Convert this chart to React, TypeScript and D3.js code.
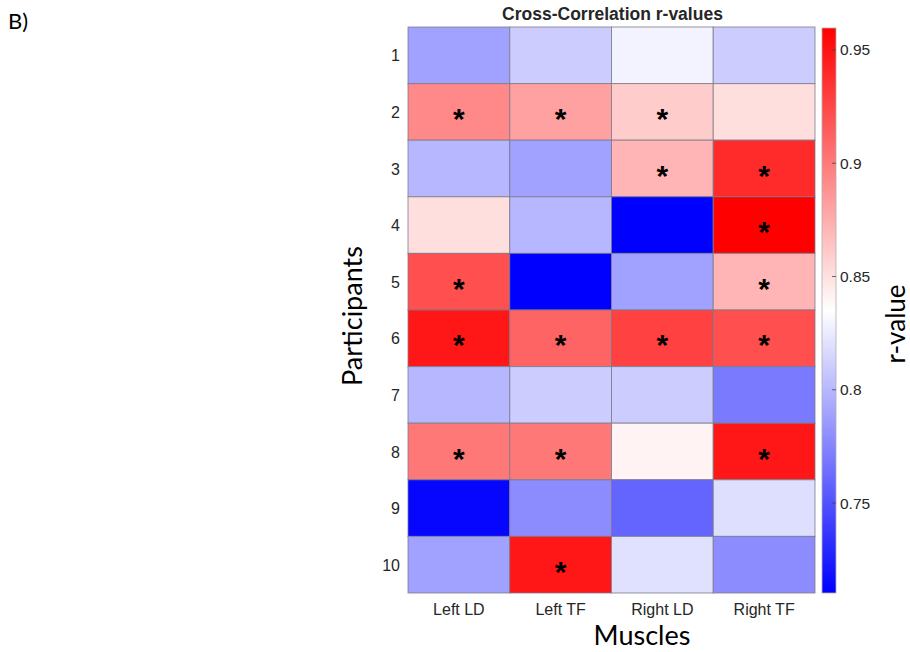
import React, { useEffect, useRef } from 'react'
import * as d3 from 'd3'

const participants = ['1', '2', '3', '4', '5', '6', '7', '8', '9', '10']
const muscles = ['Left LD', 'Left TF', 'Right LD', 'Right TF']

// r-values per participant (rows) and muscle (columns)
const rValues = [
	[0.789, 0.81, 0.829, 0.81],
	[0.893, 0.881, 0.86, 0.851],
	[0.8, 0.789, 0.871, 0.939],
	[0.851, 0.8, 0.7103, 0.9597],
	[0.921, 0.7103, 0.789, 0.871],
	[0.949, 0.911, 0.928, 0.921],
	[0.8, 0.81, 0.81, 0.77],
	[0.901, 0.901, 0.841, 0.949],
	[0.713, 0.779, 0.759, 0.819],
	[0.789, 0.949, 0.82, 0.779],
]

// 1 = significant (asterisk)
const significant = [
	[0, 0, 0, 0],
	[1, 1, 1, 0],
	[0, 0, 1, 1],
	[0, 0, 0, 1],
	[1, 0, 0, 1],
	[1, 1, 1, 1],
	[0, 0, 0, 0],
	[1, 1, 0, 1],
	[0, 0, 0, 0],
	[0, 1, 0, 0],
]

const colorTicks = [0.75, 0.8, 0.85, 0.9, 0.95]
const rMin = 0.7103
const rMax = 0.9597

const tickFont = '"Liberation Sans", Arial, sans-serif'
const labelFont = 'Lato, "Open Sans", sans-serif'

export default function App() {
	const ref = useRef<SVGSVGElement>(null)

	useEffect(() => {
		const svg = d3.select(ref.current)
		svg.selectAll('*').remove()

		const left = 408
		const top = 27
		const width = 407
		const height = 566

		const mid = (rMin + rMax) / 2
		const color = d3
			.scaleLinear<string>()
			.domain([rMin, mid, rMax])
			.range(['#0000ff', '#ffffff', '#ff0000'])
			.clamp(true)

		const x = d3.scaleBand().domain(muscles).range([left, left + width])
		const y = d3.scaleBand().domain(participants).range([top, top + height])

		const cells = rValues.flatMap((row, i) =>
			row.map((v, j) => ({
				p: participants[i],
				m: muscles[j],
				v,
				sig: significant[i][j] === 1,
			}))
		)

		svg
			.append('g')
			.selectAll('rect')
			.data(cells)
			.enter()
			.append('rect')
			.attr('x', (d) => x(d.m))
			.attr('y', (d) => y(d.p))
			.attr('width', x.bandwidth())
			.attr('height', y.bandwidth())
			.attr('fill', (d) => color(d.v))
			.attr('stroke', '#7a7a8a')
			.attr('stroke-opacity', 0.8)
			.attr('stroke-width', 1)

		svg
			.append('g')
			.selectAll('text')
			.data(cells.filter((d) => d.sig))
			.enter()
			.append('text')
			.attr('x', (d) => x(d.m) + x.bandwidth() / 2)
			.attr('y', (d) => y(d.p) + y.bandwidth() / 2 + 17)
			.attr('text-anchor', 'middle')
			.attr('font-family', tickFont)
			.attr('font-weight', 'bold')
			.attr('font-size', 30)
			.attr('fill', '#000')
			.text('*')

		// row labels
		svg
			.append('g')
			.selectAll('text')
			.data(participants)
			.enter()
			.append('text')
			.attr('x', left - 8)
			.attr('y', (d) => y(d) + y.bandwidth() / 2 + 6)
			.attr('text-anchor', 'end')
			.attr('font-family', tickFont)
			.attr('font-size', 16)
			.attr('fill', '#262626')
			.text((d) => d)

		// column labels
		svg
			.append('g')
			.selectAll('text')
			.data(muscles)
			.enter()
			.append('text')
			.attr('x', (d) => x(d) + x.bandwidth() / 2)
			.attr('y', top + height + 22)
			.attr('text-anchor', 'middle')
			.attr('font-family', tickFont)
			.attr('font-size', 16)
			.attr('fill', '#262626')
			.text((d) => d)

		// colorbar
		const cbX = 822
		const cbW = 14
		const cbTop = 28
		const cbBottom = 593
		const cy = d3.scaleLinear().domain([rMin, rMax]).range([cbBottom, cbTop])

		const grad = svg
			.append('defs')
			.append('linearGradient')
			.attr('id', 'cbar')
			.attr('x1', 0)
			.attr('y1', 1)
			.attr('x2', 0)
			.attr('y2', 0)
		;[rMin, mid, rMax].forEach((v) => {
			grad
				.append('stop')
				.attr('offset', (v - rMin) / (rMax - rMin))
				.attr('stop-color', color(v))
		})

		svg
			.append('rect')
			.attr('x', cbX)
			.attr('y', cbTop)
			.attr('width', cbW)
			.attr('height', cbBottom - cbTop)
			.attr('fill', 'url(#cbar)')
			.attr('stroke', '#b0b0b0')
			.attr('stroke-width', 0.8)

		const cbTicks = svg.append('g').selectAll('g').data(colorTicks).enter().append('g')
		cbTicks
			.append('line')
			.attr('x1', cbX + cbW - 4)
			.attr('x2', cbX + cbW)
			.attr('y1', (d) => cy(d))
			.attr('y2', (d) => cy(d))
			.attr('stroke', '#444')
			.attr('stroke-width', 0.8)
		cbTicks
			.append('text')
			.attr('x', cbX + cbW + 4)
			.attr('y', (d) => cy(d) + 5.5)
			.attr('font-family', tickFont)
			.attr('font-size', 15.5)
			.attr('fill', '#262626')
			.text((d) => d3.format('~g')(d))

		// title and axis labels
		svg
			.append('text')
			.attr('x', left + width / 2 + 1)
			.attr('y', 20)
			.attr('text-anchor', 'middle')
			.attr('font-family', tickFont)
			.attr('font-weight', 'bold')
			.attr('font-size', 17.5)
			.attr('fill', '#262626')
			.text('Cross-Correlation r-values')

		svg
			.append('text')
			.attr('transform', `translate(362, ${top + height / 2 + 6}) rotate(-90)`)
			.attr('text-anchor', 'middle')
			.attr('font-family', labelFont)
			.attr('font-size', 27)
			.attr('fill', '#000')
			.text('Participants')

		svg
			.append('text')
			.attr('x', 642)
			.attr('y', 645)
			.attr('text-anchor', 'middle')
			.attr('font-family', labelFont)
			.attr('font-size', 27)
			.attr('fill', '#000')
			.text('Muscles')

		svg
			.append('text')
			.attr('transform', `translate(905, 324) rotate(-90)`)
			.attr('text-anchor', 'middle')
			.attr('font-family', labelFont)
			.attr('font-size', 26)
			.attr('fill', '#000')
			.text('r-value')

		svg
			.append('text')
			.attr('x', 8)
			.attr('y', 29)
			.attr('font-family', labelFont)
			.attr('font-size', 22)
			.attr('fill', '#000')
			.text('B)')
	}, [])

	return (
		<div style={{ position: 'absolute', left: 0, top: 0 }}>
			<svg ref={ref} width={910} height={652} style={{ display: 'block', background: '#fff' }} />
		</div>
	)
}
